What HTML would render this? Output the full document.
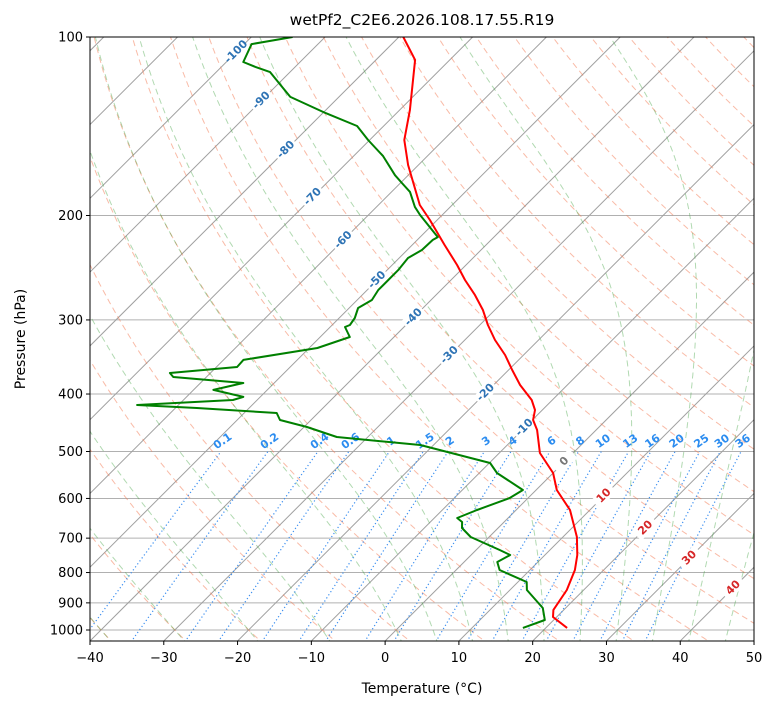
<!DOCTYPE html>
<html><head><meta charset="utf-8"><style>
body{margin:0;background:#fff;}
svg text{font-family:"DejaVu Sans","Liberation Sans",sans-serif;}
</style></head><body>
<svg id="chart" width="775" height="708" xmlns="http://www.w3.org/2000/svg">
<rect width="775" height="708" fill="#fff"/>
<text x="422" y="25" font-size="15.5" text-anchor="middle">wetPf2_C2E6.2026.108.17.55.R19</text>
<defs><clipPath id="pc"><rect x="90" y="37" width="664" height="604"/></clipPath></defs>
<g id="plot" clip-path="url(#pc)"></g>
<g id="axes"></g>
<text x="422" y="693" font-size="14" text-anchor="middle">Temperature (°C)</text>
<text transform="translate(25,339) rotate(-90)" font-size="14" text-anchor="middle">Pressure (hPa)</text>
</svg>
<script>
// ---- data ----
const tempP=[100,109.3,132.8,149.2,164.4,192.0,203.5,224.3,242.4,256.9,272.4,288.7,306,324.3,343.8,364.4,386.3,409.4,425.6,442.4,459.9,502.9,543.6,580.6,627.6,696.9,747.4,792.2,856,925,950.7,992];
const tempT=[-79.4,-74.7,-68.6,-65.3,-61.4,-54.4,-51.0,-45.6,-41.2,-38.1,-34.7,-31.6,-28.9,-25.9,-22.5,-19.5,-16.4,-12.8,-11.0,-9.9,-8.0,-4.5,0.0,2.8,7.3,11.9,14.4,16.1,17.7,18.6,19.5,22.9];
const dewP=[100,102.8,110.2,112.3,114.6,121.9,126.2,134.4,141.3,149.2,158.8,171.0,176.3,182.5,193.4,199.6,217.5,219.9,228.7,235.9,247.2,256.9,267.2,277.7,286.4,297.7,306,308.3,320.5,334.5,350.4,360.1,368.6,374.4,383.2,393.7,404.5,409.4,417.5,422.3,430.6,442.4,454.6,472.6,487.5,522.9,543.6,580.6,598.9,627.6,647.3,657.5,673.0,696.9,733.0,747.4,767.9,792.2,830.1,856,918,962,992];
const dewT=[-94.4,-99.0,-97.7,-95.4,-92.7,-88.8,-86.6,-79.6,-73.6,-70.2,-66.0,-61.8,-59.8,-57.5,-54.8,-53.0,-47.6,-47.9,-48.0,-48.8,-48.5,-48.5,-48.5,-48.0,-48.8,-47.9,-47.6,-48.0,-46.0,-48.9,-57.3,-57.2,-65.5,-64.5,-54.2,-57.3,-52.3,-53.3,-65.6,-57.1,-45.6,-44.2,-39.6,-34.2,-21.8,-9.9,-7.6,-1.8,-2.5,-5.3,-6.9,-5.7,-4.9,-2.5,3.2,5.3,4.5,5.9,11.2,12.3,16.9,18.8,16.9];
const isobars=[100,200,300,400,500,600,700,800,900,1000];
const xTicks=[-40,-30,-20,-10,0,10,20,30,40,50];
const mixRatios=[0.1,0.2,0.4,0.6,1,1.5,2,3,4,6,8,10,13,16,20,25,30,36];
const labelTemps=[-100,-90,-80,-70,-60,-50,-40,-30,-20,-10,0,10,20,30,40];
const labelPres=[106,128,155,186,220,257,297,344,398,456,520,594,673,756,849];
const dryT0=[-40,-30,-20,-10,0,10,20,30,40,50,60,70,80,90,100,110,120,130,140,150,160,170,180,190,200,210,220,230,240];
const moistT0=[-40,-30,-20,-10,0,5,10,15,20,25,30,35,40,45];

// ---- scales ----
const X0=90,X1=754,Y0=37,Y1=641,SX=7.378,DEC=593;
function yP(p){return Y0+Math.log10(p/100)*DEC;}
function xTP(T,p){return X0+(T+40)*SX+(Y1-yP(p));}
const NS='http://www.w3.org/2000/svg';
const plot=document.getElementById('plot'),axes=document.getElementById('axes');
function mk(tag,attrs,parent){const e=document.createElementNS(NS,tag);for(const k in attrs)e.setAttribute(k,attrs[k]);parent.appendChild(e);return e;}
function pathFrom(ps,ts){let d='';for(let i=0;i<ps.length;i++){d+=(i?'L':'M')+xTP(ts[i],ps[i]).toFixed(1)+','+yP(ps[i]).toFixed(1);}return d;}
const pres=[];for(let p=1060;p>=95;p-=5)pres.push(p);

isobars.forEach(p=>{const l=mk('line',{x1:X0,x2:X1,y1:yP(p),y2:yP(p),stroke:'#b0b0b0','stroke-width':1},plot);

});
for(let T=-150;T<=50;T+=10){const l=mk('line',{x1:xTP(T,1050),y1:yP(1050),x2:xTP(T,95),y2:yP(95),stroke:'#a0a0a0','stroke-width':1},plot);

}
dryT0.forEach(t0=>{const ts=pres.map(p=>(t0+273.15)*Math.pow(p/1000,0.2857)-273.15);
const e=mk('path',{d:pathFrom(pres,ts),fill:'none',stroke:'rgba(244,120,80,0.5)','stroke-width':1,'stroke-dasharray':'6,4'},plot);

});
function es(T){return 6.112*Math.exp(17.67*T/(T+243.5));}
function dTdp(Tc,p){const T=Tc+273.15,e=es(Tc),rs=0.622*e/(p-e);return (287*T+2.501e6*rs)/(p*(1005+2.501e6*2.501e6*rs*0.622/(287*T*T)));}
moistT0.forEach(t0=>{const ps=[1000],ts=[t0];let T=t0;for(let p=1000;p>100;p-=2){T-=dTdp(T,p)*2;ps.push(p-2);ts.push(T);}
let T2=t0;const pd=[],td=[];for(let p=1000;p<1060;p+=2){T2+=dTdp(T2,p)*2;pd.push(p+2);td.push(T2);}
const P=pd.reverse().concat(ps),TT=td.reverse().concat(ts);
const e=mk('path',{d:pathFrom(P,TT),fill:'none',stroke:'rgba(60,160,60,0.4)','stroke-width':1,'stroke-dasharray':'6,4'},plot);

});
const mp=[];for(let p=1060;p>=500;p-=10)mp.push(p);
function tdOf(w,p){const e=p*w/(622+w),l=Math.log(e/6.112);return 243.5*l/(17.67-l);}
mixRatios.forEach(w=>{const ts=mp.map(p=>tdOf(w,p));
const e=mk('path',{d:pathFrom(mp,ts),fill:'none',stroke:'#3a8ef0','stroke-width':1.2,'stroke-dasharray':'1.2,2.5'},plot);


const x=xTP(tdOf(w,500),500)+2,y=yP(500)-10;
const t=mk('text',{x:x,y:y,'font-size':11,'font-weight':'bold',fill:'#2b8cf0','text-anchor':'middle','dominant-baseline':'middle',transform:'rotate(-35 '+x+' '+y+')'},plot);
t.textContent=String(w);

});
labelTemps.forEach((T,i)=>{const p=labelPres[i],x=xTP(T,p),y=yP(p);
const c=T<0?'#2f74b5':(T>0?'#d62728':'#777');
const r=mk('rect',{x:x-12,y:y-6,width:24,height:12,fill:'#fff',transform:'rotate(-45 '+x+' '+y+')'},plot);


const t=mk('text',{x:x,y:y,'font-size':11,'font-weight':'bold',fill:c,'text-anchor':'middle','dominant-baseline':'middle',transform:'rotate(-45 '+x+' '+y+')'},plot);
t.textContent=String(T);

});
const tl=mk('path',{d:pathFrom(tempP,tempT),fill:'none',stroke:'#ff0000','stroke-width':2,'stroke-linejoin':'round'},plot);


const dl=mk('path',{d:pathFrom(dewP,dewT),fill:'none',stroke:'#008000','stroke-width':2,'stroke-linejoin':'round'},plot);


const fr=mk('rect',{x:X0,y:Y0,width:X1-X0,height:Y1-Y0,fill:'none',stroke:'#000','stroke-width':1},axes);


isobars.forEach(p=>{const y=yP(p);mk('line',{x1:X0-4,x2:X0,y1:y,y2:y,stroke:'#000'},axes);
const t=mk('text',{x:X0-7,y:y+4.5,'font-size':13,'text-anchor':'end'},axes);t.textContent=String(p);

});
xTicks.forEach(T=>{const x=X0+(T+40)*SX;mk('line',{x1:x,x2:x,y1:Y1,y2:Y1+4,stroke:'#000'},axes);
const t=mk('text',{x:x,y:Y1+21,'font-size':13,'text-anchor':'middle'},axes);t.textContent=(T<0?'\u2212'+(-T):String(T));

});
</script>
</body></html>
